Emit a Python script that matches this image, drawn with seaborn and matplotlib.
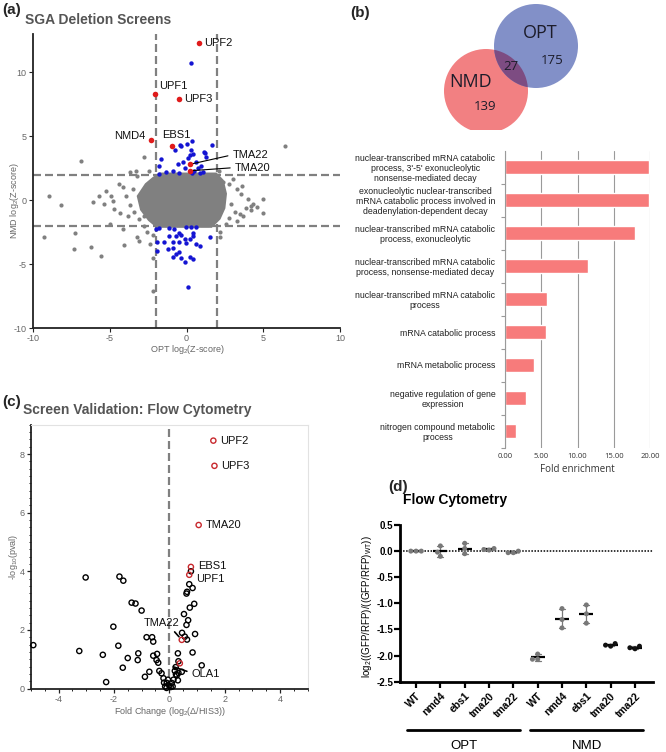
import numpy as np
import pandas as pd
import matplotlib
matplotlib.use('Agg')
import matplotlib.pyplot as plt
import seaborn as sns
from matplotlib.patches import Circle, Polygon
from matplotlib.ticker import MultipleLocator, FormatStrFormatter

sns.set_theme(style='white')
plt.rcParams['font.family'] = ['Liberation Sans', 'DejaVu Sans']
plt.rcParams['axes.unicode_minus'] = False
plt.rcParams['mathtext.fontset'] = 'custom'
plt.rcParams['mathtext.rm'] = 'Liberation Sans'
plt.rcParams['mathtext.it'] = 'Liberation Sans:italic'

W, H = 666, 752

# ---------------- (a) SGA deletion screens ----------------
# outline of the dense grey core of the screen (too many points to list)
core_x = [-1.7, 1.9, 2.3, 2.5, 2.4, 2.1, 1.6, -1.9, -2.4, -2.9, -3.1, -2.6, -2.1]
core_y = [2.0, 2.0, 1.5, 0.5, -0.6, -1.4, -2.0, -2.0, -1.5, -0.7, 0.3, 1.2, 1.7]

gray_x = [-8.95, -8.2, -6.1, -5.7, -9.3, -7.25, -7.3, -6.2, -5.6, -4.1, -3.2, -3.1, -2.4,
          -2.15, -2.15, -6.9, -2.75, -3.7, -3.3, -2.45, 6.4, 5.0, 5.0, 3.9, 3.5, 2.15, 2.2,
          -5.25, -4.9, -4.8, -4.7, -5.0, -3.94, -3.8, -3.5, -4.15, -3.7, -3.07, -2.75, -2.4,
          -3.2, -4.15, -2.6, 2.8, 3.3, 3.57, 4.0, 4.2, 4.2, 3.7, 3.15, 2.8, 2.6, 3.0, 2.4,
          4.6, 4.3, -4.4, -5.4, -4.3, 3.6, 2.9, -3.4, -2.8, 3.3, -2.2, 2.1]
gray_y = [0.3, -0.4, -0.15, 0.3, -2.9, -2.6, -3.8, -3.7, -4.4, -3.5, -2.9, -3.2, -3.4,
          -4.5, -7.1, 3.05, 3.35, 2.2, 2.25, 2.3, 4.25, 0.1, -1.0, -0.6, -1.1, -2.5, -2.9,
          0.73, 0.34, -0.05, -0.7, -1.9, 0.34, -1.2, 0.86, 1.0, -0.4, -1.48, -2.0, 1.38,
          1.9, -2.27, -2.5, 1.25, 0.86, 0.47, 0.08, -0.45, -0.8, -1.2, -0.9, -1.4, -1.9, 1.64, 1.45,
          -0.5, -0.3, 1.3, -0.3, -1.0, 1.1, -0.3, -0.9, -1.2, -1.6, -2.7, 2.3]

blue_x = [0.3, -0.35, 0.0, 0.37, 0.41, 1.18, 1.68, -1.8, -1.8, -0.57, -0.24, 0.63, 0.96,
          1.07, -1.33, -0.9, 0.1, -1.65, -0.78, 1.13, 1.3, 0.2, 0.28, -0.45, 0.5, 0.75,
          -0.1, 0.9, -0.5, 0.35,
          -1.98, -1.76, -1.11, -0.79, -0.02, 0.31, 0.63, -1.95, -1.9, -1.11, -0.68, -0.46,
          -0.35, -0.13, -0.02, 0.2, 0.41, 0.41, 0.63, 0.85, 1.55, -1.22, -0.89, -0.89, -0.68,
          -0.46, -0.35, -0.13, 0.2, 0.41, 0.09, -1.44, -0.46, -0.9]
blue_y = [10.75, 4.25, 4.4, 4.65, 3.6, 3.7, 4.3, 2.7, 2.05, 2.8, 2.95, 2.95, 2.7,
          2.2, 2.2, 2.3, 3.3, 3.2, 3.9, 3.8, 3.35, 3.5, 3.9, 4.3, 2.3, 2.5,
          2.5, 2.15, 2.15, 2.1,
          -2.27, -2.21, -2.21, -2.27, -2.06, -2.13, -2.13, -3.26, -3.96, -2.79, -2.84, -2.53,
          -2.73, -3.05, -3.36, -3.0, -2.53, -2.84, -3.44, -3.62, -2.86, -3.83, -3.78, -4.48, -4.22,
          -4.09, -4.56, -4.87, -4.48, -4.61, -6.82, -3.31, -3.31, -3.3]

hit_genes = ['UPF2', 'UPF1', 'UPF3', 'NMD4', 'EBS1', 'TMA22', 'TMA20']
hit_x = [0.8, -2.03, -0.5, -2.3, -0.94, 0.2, 0.25]
hit_y = [12.3, 8.3, 7.95, 4.7, 4.2, 2.8, 2.3]

# ---------------- (b) overlap + GO enrichment ----------------
venn_nmd_only = 139
venn_opt_only = 175
venn_both = 27

go_terms = [
    "nuclear-transcribed mRNA catabolic\nprocess, 3'-5' exonucleolytic\nnonsense-mediated decay",
    "exonucleolytic nuclear-transcribed\nmRNA catabolic process involved in\ndeadenylation-dependent decay",
    "nuclear-transcribed mRNA catabolic\nprocess, exonucleolytic",
    "nuclear-transcribed mRNA catabolic\nprocess, nonsense-mediated decay",
    "nuclear-transcribed mRNA catabolic\nprocess",
    "mRNA catabolic process",
    "mRNA metabolic process",
    "negative regulation of gene\nexpression",
    "nitrogen compound metabolic\nprocess",
]
go_fold = [19.9, 19.9, 17.9, 11.5, 5.85, 5.6, 4.0, 2.85, 1.5]

# ---------------- (c) flow cytometry validation ----------------
val_x = [-4.91, -3.02, -1.8, -1.66, -1.36, -1.22, -1.0, -2.02, -1.84, -3.25, -2.4, -2.28,
         -1.68, -1.5, -1.12, -1.14, -0.82, -0.62, -0.58, -0.72, -0.88, -0.58, -0.44, -0.46,
         -0.4, -0.36, -0.28, -0.21, -0.19, -0.09, -0.15, 0.09, 0.12, 0.27, 0.33, 0.23, 0.33,
         0.31, 0.45, 0.31, 0.24, 0.84, 1.17, 0.46, 0.56, 0.64, 0.93, 0.68, 0.62, 0.53, 0.74,
         0.9, 0.62, 0.64, 0.84, 0.72, 0.78, -0.05, 0.0, -0.1, 0.05, 0.15, 0.2]
val_y = [1.48, 3.79, 3.82, 3.68, 2.93, 2.9, 2.66, 2.11, 1.46, 1.28, 1.15, 0.22,
         0.71, 1.04, 1.2, 0.97, 1.75, 1.75, 1.6, 0.57, 0.4, 1.12, 1.18, 0.97,
         0.88, 0.6, 0.52, 0.35, 0.2, 0.19, 0.07, 0.19, 0.07, 0.45, 0.53, 0.73, 0.93,
         1.2, 0.57, 0.28, 0.48, 1.23, 0.79, 1.9, 1.77, 1.67, 1.86, 2.33, 2.17, 2.54, 2.76,
         2.89, 3.24, 3.3, 3.43, 3.56, 4.0, 0.3, 0.1, 0.02, 0.05, 0.3, 0.6]
val_genes = ['UPF2', 'UPF3', 'TMA20', 'EBS1', 'UPF1', 'TMA22', 'OLA1']
val_gx = [1.59, 1.63, 1.06, 0.78, 0.72, 0.45, 0.38]
val_gy = [8.46, 7.6, 5.58, 4.15, 3.88, 1.66, 0.86]

# ---------------- (d) flow cytometry ----------------
d_strains = ['WT', 'nmd4', 'ebs1', 'tma20', 'tma22']
opt_vals = [[0.0, 0.0, 0.0], [0.10, -0.02, -0.10], [0.15, 0.05, -0.05],
            [0.03, 0.05, 0.02], [-0.03, 0.0, -0.03]]
nmd_vals = [[-1.97, -2.07, -2.07], [-1.10, -1.31, -1.47], [-1.03, -1.20, -1.38],
            [-1.82, -1.77, -1.80], [-1.87, -1.82, -1.85]]


def rect(l, t, r, b):
    return [l / W, 1 - b / H, (r - l) / W, (b - t) / H]


def label_at(axis, box, px, py):
    l, t, r, b = box
    axis.set_label_coords((px - l) / (r - l), (b - py) / (b - t))


fig = plt.figure(figsize=(W / 100, H / 100), dpi=100)

dash = (0, (3.6, 1.8))
tick_gray = '#666666'

# ======== panel (a) ========
box_a = (33, 34, 340, 328)
axa = fig.add_axes(rect(*box_a))
for v in (-2, 2):
    axa.axvline(v, color='#808080', lw=1.6, ls=dash, zorder=1)
    axa.axhline(v, color='#808080', lw=1.6, ls=dash, zorder=1)
axa.add_patch(Polygon(np.column_stack([core_x, core_y]), closed=True, fc='#808080',
                      ec='#808080', lw=3, zorder=2))
sns.scatterplot(x=gray_x, y=gray_y, color='#808080', s=9, linewidth=0, ax=axa, zorder=2)
sns.scatterplot(x=blue_x, y=blue_y, color='#1414d2', s=10, linewidth=0, ax=axa, zorder=3)
sns.scatterplot(x=hit_x, y=hit_y, color='#e01b1b', s=16, linewidth=0, ax=axa, zorder=4)

a_offsets = {'UPF2': ((4, 0), 'left'), 'UPF1': ((3, 6), 'left'), 'UPF3': ((4, 0), 'left'),
             'NMD4': ((-4, 3), 'right'), 'EBS1': ((3, 8), 'center')}
for g, x, y in zip(hit_genes, hit_x, hit_y):
    if g in a_offsets:
        off, ha = a_offsets[g]
        axa.annotate(g, (x, y), xytext=off, textcoords='offset points', ha=ha,
                     va='center', fontsize=8, color='#111111')
axa.annotate('TMA22', (hit_x[5], hit_y[5]), xytext=(3.0, 3.55), ha='left', va='center',
             fontsize=8, color='#111111',
             arrowprops=dict(arrowstyle='-', color='black', lw=0.8, relpos=(0, 0.5),
                             shrinkA=1, shrinkB=1))
axa.annotate('TMA20', (hit_x[6], hit_y[6]), xytext=(3.15, 2.55), ha='left', va='center',
             fontsize=8, color='#111111',
             arrowprops=dict(arrowstyle='-', color='black', lw=0.8, relpos=(0, 0.5),
                             shrinkA=1, shrinkB=1))
axa.set_xlim(-10, 10)
axa.set_ylim(-10, 13)
axa.set_xticks([-10, -5, 0, 5, 10])
axa.set_yticks([-10, -5, 0, 5, 10])
sns.despine(ax=axa)
for s in ('left', 'bottom'):
    axa.spines[s].set_color('#222222')
    axa.spines[s].set_linewidth(1.3)
axa.tick_params(left=True, bottom=True, length=3, width=0.8, color='#222222',
                labelsize=6.5, labelcolor=tick_gray, pad=1.5)
axa.set_xlabel('OPT log$_2$(Z-score)', fontsize=6.5, color=tick_gray)
axa.set_ylabel('NMD log$_2$(Z-score)', fontsize=6.5, color=tick_gray)
label_at(axa.xaxis, box_a, 187, 349)
label_at(axa.yaxis, box_a, 15, 201)
axa.xaxis.label.set_va('center')
axa.yaxis.label.set_va('center')
fig.text(2 / W, 1 - 10 / H, '(a)', fontsize=11, fontweight='bold', va='center')
fig.text(25 / W, 1 - 20 / H, 'SGA Deletion Screens', fontsize=10, fontweight='bold',
         color='#555555', va='center')

# ======== panel (b) venn ========
axv = fig.add_axes(rect(400, 0, 620, 130))
axv.set_xlim(400, 620)
axv.set_ylim(130, 0)
axv.set_aspect('equal')
axv.axis('off')
c_nmd = Circle((486, 91), 42, fc='#f28082', ec='none')
c_opt = Circle((536, 46), 42, fc='#8290c8', ec='none')
axv.add_patch(c_nmd)
axv.add_patch(c_opt)
c_both = Circle((486, 91), 42, fc='#7d4c82', ec='none')
axv.add_patch(c_both)
c_both.set_clip_path(c_opt)
vfont = ['Open Sans', 'DejaVu Sans']
vcol = '#1c1c2a'
axv.text(540, 33, 'OPT', fontsize=13, ha='center', va='center', family=vfont, color=vcol)
axv.text(471, 82, 'NMD', fontsize=13, ha='center', va='center', family=vfont, color=vcol)
axv.text(552, 61, str(venn_opt_only), fontsize=9.5, ha='center', va='center', family=vfont, color=vcol)
axv.text(511, 66, str(venn_both), fontsize=9.5, ha='center', va='center', family=vfont, color=vcol)
axv.text(485, 107, str(venn_nmd_only), fontsize=9.5, ha='center', va='center', family=vfont, color=vcol)
fig.text(350 / W, 1 - 13 / H, '(b)', fontsize=11, fontweight='bold', va='center')

# ======== panel (b) GO bars ========
box_b = (505, 150.5, 650, 447.5)
axb = fig.add_axes(rect(*box_b))
sns.barplot(x=go_fold, y=go_terms, orient='h', color='#f77b7b', saturation=1,
            width=0.4, ax=axb, zorder=2)
axb.set_xlim(0, 20)
axb.set_xticks([0, 5, 10, 15, 20])
axb.xaxis.set_major_formatter(FormatStrFormatter('%.2f'))
axb.grid(axis='x', color='#9a9a9a', lw=0.8, zorder=0)
axb.set_axisbelow(True)
for s in ('top', 'right', 'bottom'):
    axb.spines[s].set_visible(False)
axb.spines['left'].set_color('#9a9a9a')
axb.spines['left'].set_linewidth(0.8)
axb.set_yticks(np.arange(len(go_terms)) + 0.5, minor=True)
axb.tick_params(axis='y', which='minor', left=True, length=3, color='#9a9a9a', width=0.8)
axb.tick_params(axis='y', which='major', length=0, pad=7, labelsize=6.3, labelcolor='#222222')
axb.tick_params(axis='x', length=0, pad=4, labelsize=5.5, labelcolor='#333333')
for t in axb.get_yticklabels():
    t.set_multialignment('center')
    t.set_linespacing(1.1)
for t in axb.get_xticklabels():
    t.set_family(vfont)
axb.set_xlabel('Fold enrichment', fontsize=7, color='#333333', family=vfont)
label_at(axb.xaxis, box_b, 577, 470)
axb.xaxis.label.set_va('center')

# ======== panel (c) ========
box_c = (30.8, 424.8, 307.8, 688.5)
axc = fig.add_axes(rect(*box_c))
axc.axvline(0, color='#808080', lw=1.6, ls=dash, zorder=1)
sns.scatterplot(x=val_x, y=val_y, s=14, facecolors='none', edgecolor='black',
                linewidth=1.0, ax=axc, zorder=3, clip_on=False)
sns.scatterplot(x=val_gx, y=val_gy, s=14, facecolors='none', edgecolor='#c8282d',
                linewidth=1.0, ax=axc, zorder=4, clip_on=False)
for g, x, y in zip(val_genes[:5], val_gx[:5], val_gy[:5]):
    dy = -3 if g == 'UPF1' else (1 if g == 'EBS1' else 0)
    axc.annotate(g, (x, y), xytext=(5, dy), textcoords='offset points', ha='left',
                 va='center', fontsize=8, color='#111111')
axc.annotate('TMA22', (val_gx[5], val_gy[5]), xytext=(-0.27, 2.25), ha='center', va='center',
             fontsize=8, color='#111111',
             arrowprops=dict(arrowstyle='-', color='black', lw=1.2, relpos=(0.75, 0),
                             shrinkA=1, shrinkB=3))
axc.annotate('OLA1', (0.15, 0.74), xytext=(0.8, 0.5), ha='left', va='center',
             fontsize=8, color='#111111',
             arrowprops=dict(arrowstyle='-', color='black', lw=1.2, relpos=(0, 0.6),
                             shrinkA=1, shrinkB=0))
axc.set_xlim(-5, 5)
axc.set_ylim(0, 9)
axc.set_xticks([-4, -2, 0, 2, 4])
axc.set_yticks([0, 2, 4, 6, 8])
axc.xaxis.set_minor_locator(MultipleLocator(0.5))
axc.yaxis.set_minor_locator(MultipleLocator(0.25))
for s in ('left', 'bottom'):
    axc.spines[s].set_color('#222222')
    axc.spines[s].set_linewidth(1.3)
for s in ('top', 'right'):
    axc.spines[s].set_color('#e2e2e2')
    axc.spines[s].set_linewidth(0.8)
axc.tick_params(which='both', left=True, bottom=True, direction='out', color='#222222',
                labelsize=6.5, labelcolor=tick_gray, pad=1.5)
axc.tick_params(which='major', length=3, width=0.9)
axc.tick_params(which='minor', length=1.6, width=0.7)
axc.set_xlabel('Fold Change (log$_2$($\\Delta$/HIS3))', fontsize=6.5, color=tick_gray)
axc.set_ylabel('-log$_{10}$(pval)', fontsize=6.5, color=tick_gray)
label_at(axc.xaxis, box_c, 170, 711)
label_at(axc.yaxis, box_c, 13, 557)
axc.xaxis.label.set_va('center')
axc.yaxis.label.set_va('center')
fig.text(2 / W, 1 - 402 / H, '(c)', fontsize=11, fontweight='bold', va='center')
fig.text(23 / W, 1 - 410 / H, 'Screen Validation: Flow Cytometry', fontsize=10,
         fontweight='bold', color='#555555', va='center')

# ======== panel (d) ========
rows = []
for grp, vals in (('OPT', opt_vals), ('NMD', nmd_vals)):
    for strain, reps in zip(d_strains, vals):
        for v in reps:
            rows.append((f'{grp} {strain}', v))
df_d = pd.DataFrame(rows, columns=['key', 'ratio'])
d_keys = list(dict.fromkeys(df_d['key']))
pt_colors = {k: '#787878' for k in d_keys}
pt_colors['NMD tma20'] = '#111111'
pt_colors['NMD tma22'] = '#111111'

box_d = (400, 525, 653, 681.7)
axd = fig.add_axes(rect(*box_d))
axd.axhline(0, color='black', lw=1.1, ls=(0, (1, 1)), zorder=1)
sns.pointplot(data=df_d, x='key', y='ratio', order=d_keys, errorbar='sd', color='#7a7a7a',
              linestyle='none', markersize=0, capsize=0.25,
              err_kws={'linewidth': 0.9}, ax=axd)
sns.swarmplot(data=df_d, x='key', y='ratio', order=d_keys, hue='key', palette=pt_colors,
              size=3.6, legend=False, ax=axd, zorder=3)
sns.pointplot(data=df_d, x='key', y='ratio', order=d_keys, errorbar=None, color='black',
              linestyle='none', marker='_', markersize=10, markeredgewidth=1.6, ax=axd)
axd.set_xlim(-0.66, 9.74)
axd.set_ylim(-2.5, 0.5)
axd.set_yticks(np.arange(-2.5, 0.51, 0.5))
axd.yaxis.set_major_formatter(FormatStrFormatter('%.1f'))
axd.set_xticks(range(len(d_keys)))
axd.set_xticklabels(d_strains * 2, rotation=45, ha='right', rotation_mode='anchor',
                    fontweight='bold')
sns.despine(ax=axd)
for s in ('left', 'bottom'):
    axd.spines[s].set_color('black')
    axd.spines[s].set_linewidth(2)
axd.tick_params(left=True, bottom=True, length=4.5, width=1.6, color='black',
                labelsize=7.5, labelcolor='black')
axd.tick_params(axis='y', labelsize=7, pad=0.5)
axd.tick_params(axis='x', pad=2)
for t in axd.get_yticklabels():
    t.set_fontweight('bold')
axd.set_xlabel('')
axd.set_ylabel('log$_2$((GFP/RFP)/((GFP/RFP)$_{\\mathrm{WT}}$))', fontsize=7, color='black')
label_at(axd.yaxis, box_d, 367, 607)
axd.yaxis.label.set_va('center')
grp_tf = axd.get_xaxis_transform()
for lbl, (x0, x1) in (('OPT', (-0.37, 4.28)), ('NMD', (4.7, 9.33))):
    axd.plot([x0, x1], [-0.308, -0.308], color='black', lw=2, transform=grp_tf, clip_on=False)
    axd.text((x0 + x1) / 2, -0.41, lbl, transform=grp_tf, ha='center', va='center',
             fontsize=9.5, color='black')
fig.text(388 / W, 1 - 487 / H, '(d)', fontsize=11, fontweight='bold', va='center')
fig.text(403 / W, 1 - 500 / H, 'Flow Cytometry', fontsize=10, fontweight='bold',
         color='black', va='center')

fig.savefig('out.png', dpi=100)
